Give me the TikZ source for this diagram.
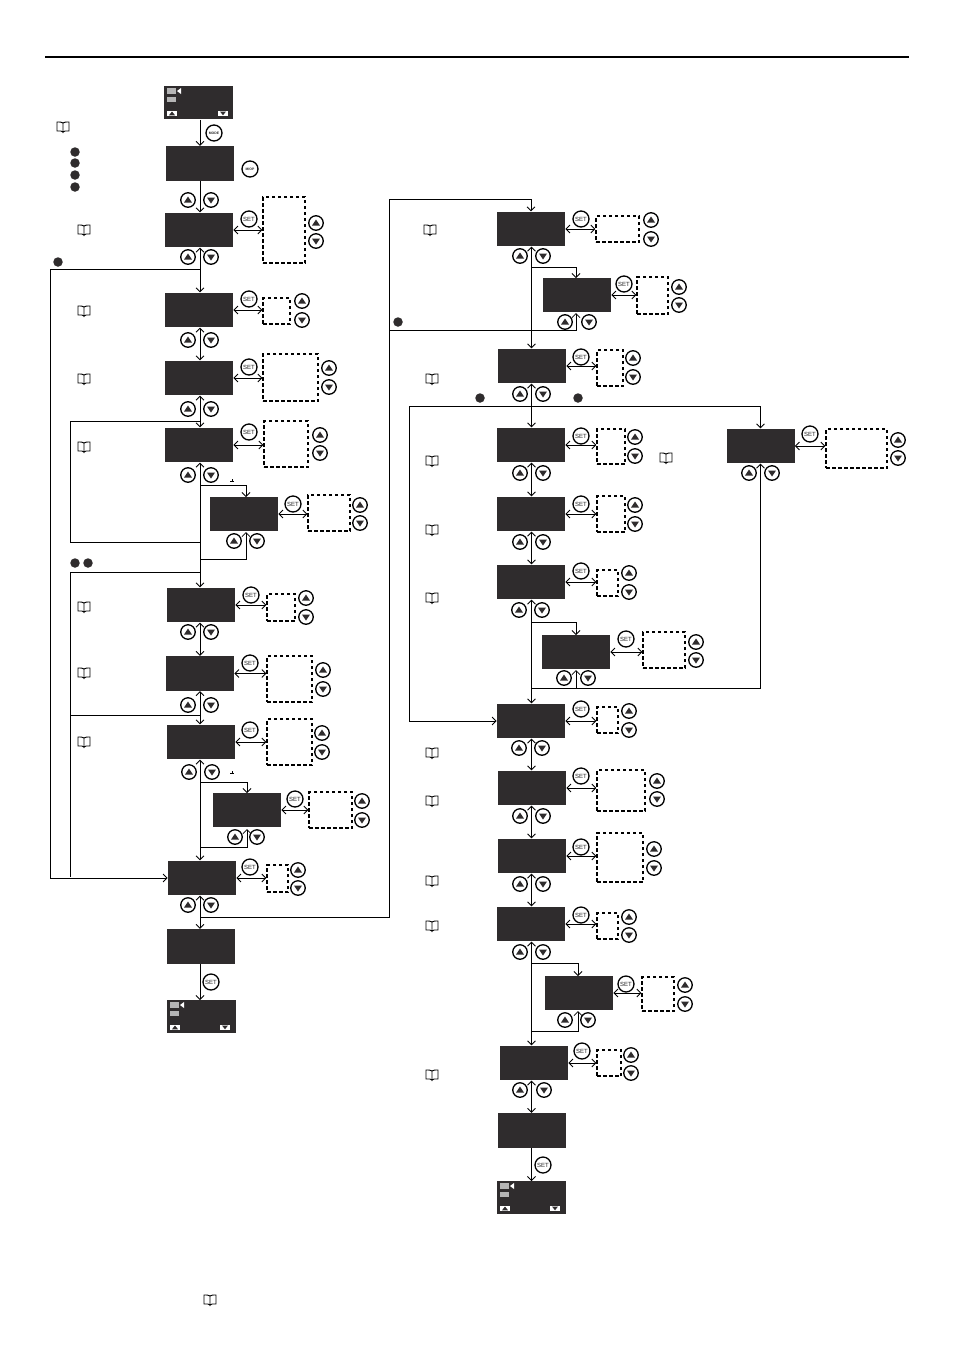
\documentclass[tikz,border=0pt]{standalone}
\usepackage{fontspec}
\setsansfont{Liberation Sans}
\usetikzlibrary{calc}
\usetikzlibrary{arrows.meta}
\definecolor{paneldark}{HTML}{2F2C2D}
\definecolor{barlight}{HTML}{B5B5B5}
\newcommand*\bookicon[2]{%
    \begin{scope}[shift={(#1,#2)},line width=0.9pt]%
        \draw (0,-4) .. controls (-2,-5) .. (-6,-5) -- (-6,4) -- (-2,4)%
            .. controls (-1,4) .. (0,5) .. controls (1,4) .. (2,4)%
            -- (6,4) -- (6,-5) .. controls (2,-5) .. (0,-4) -- (0,6);%
    \end{scope}%
}
% #1 name, #2/#3 top left corner, #4 width, #5 left of the right button
\newcommand*\homescreen[5]{%
    \node[panel,anchor=north west,minimum width=#4,minimum height=33pt] (#1) at (#2,#3) {};%
    \begin{scope}[shift={(#2,#3)}]%
        \fill[barlight] (3,2) rectangle (12,8);%
        \fill[barlight] (3,10.7) rectangle (12,16);%
        \fill[white] (13,5) -- (17,2) -- (17,8) -- cycle;%
        \fill[white] (3,24.5) rectangle (13,30);%
        \fill[white] (#5,24.5) rectangle ++(10,5.5);%
        \fill[paneldark] (5,29.3) -- (11,29.3) -- (8,25.5) -- cycle;%
        \fill[paneldark] (#5,25) ++(2,0.5) -- ++(6,0) -- ++(-3,3.8) -- cycle;%
    \end{scope}%
}

\begin{document}
\begin{tikzpicture}
    [%
        x=1pt,%
        y=-1pt,%
        >={Straight Barb[length=4pt,width=8pt]},%
        line width=0.8pt,%
        panel/.style={%
            fill=paneldark,%
            inner sep=0pt,%
            minimum width=68pt,%
            minimum height=34.5pt%
        },%
        valuebox/.style={%
            draw,%
            line width=1.3pt,%
            dash pattern=on 3.5pt off 2.5pt,%
            inner sep=0pt%
        },%
        roundkey/.style={%
            draw,%
            circle,%
            line width=1.3pt,%
            fill=white,%
            inner sep=0pt,%
            minimum size=14.5pt%
        },%
        keyup/.style={%
            roundkey,%
            path picture={%
                \fill[paneldark] ([shift={(-4,2.5)}]path picture bounding box.center)%
                    -- ([shift={(4,2.5)}]path picture bounding box.center)%
                    -- ([shift={(0,-3.5)}]path picture bounding box.center) -- cycle;%
            }%
        },%
        keydown/.style={%
            roundkey,%
            path picture={%
                \fill[paneldark] ([shift={(-4,-2.5)}]path picture bounding box.center)%
                    -- ([shift={(4,-2.5)}]path picture bounding box.center)%
                    -- ([shift={(0,3.5)}]path picture bounding box.center) -- cycle;%
            }%
        },%
        setkey/.style={%
            roundkey,%
            minimum size=16pt,%
            font=\sffamily\fontsize{6}{6}\selectfont,%
            text=black!85%
        },%
        modekey/.style={%
            setkey,%
            font=\sffamily\bfseries\fontsize{3.4}{3.4}\selectfont%
        },%
        dot/.style={%
            circle,%
            fill=paneldark,%
            inner sep=0pt,%
            minimum size=9.5pt%
        }%
    ]%
%
    \useasboundingbox (0,0) rectangle (954,1350);
    \coordinate (rule-west) at (45,57);
    \coordinate (rule-east) at (909,57);
    \draw[line width=1.5pt] (rule-west) -- (rule-east);
%
    % screens with nothing to set
    \foreach \name/\x/\y in {p1/200/163.5,p12/201/946.5,q14/532/1130.5} {
        \node[panel] (\name) at (\x,\y) {};
    } % \foreach \name/\x/\y
    \homescreen{home1}{164}{86}{69pt}{54}
    \homescreen{home2}{167}{1000}{69pt}{53}
    \homescreen{home3}{497}{1181}{69pt}{53}
%
    % screens, each with its SET key, value box and keys
    % \x/\y screen, \sx/\sy SET key, \bx/\by/\bw/\bh value box
    % \kx/\ku/\kd keys of the value box
    \foreach \name/\x/\y/\sx/\sy/\bx/\by/\bw/\bh/\kx/\ku/\kd in {%
        p2/199/230/249/219/284/230/42/66/316/223/241,%
        p3/199/310/249/299/276.5/311/27/26/302/301/320,%
        p4/199/378/249/367/290.5/377.5/55/47/329/368/387,%
        p5/199/445/249/432/286/444/44/46/320/435/453,%
        p6/244/514/293/504/329/513/42/36/360/505/523,%
        p7/201/605/251/595/281/607.5/28/27/306/598/617,%
        p8/200/673.5/250/663/289.5/679/45/46/323/670/689,%
        p9/201/742/250/730/289.5/742/45/46/322/733/752,%
        p10/247/810/295/799/330.5/810/43/36/362/801/820,%
        p11/202/878/250/867/277.5/878.5/21/27/298/870/888,%
        q1/531/229/581/219/617.5/229/43/26/651/220/239,%
        q2/577/295/624/284/652.5/295.5/31/37/679/287/305,%
        q3/532/366/581/357/610/368/26/36/633/358/377,%
        q4/531/445/581/436/611/446.5/28/35/635/437/456,%
        q5/531/514/581/504/611/514/28/36/635/505/524,%
        q6/531/582/581/571/607.5/583/21/26/629/573/592,%
        q7/576/652/626/639/664/650/42/36/696/642/660,%
        q8/531/721/581/709/607.5/720/21/26/629/711/730,%
        q9/532/788/581/776/621/790.5/48/41/657/781/799,%
        q10/532/856/581/847/620/857.5/46/49/654/849/868,%
        q11/531/924/581/915/607.5/926/21/26/629/917/935,%
        q12/579/993/626/984/658/994/32/34/685/985/1004,%
        q13/534/1063/582/1051/609/1063/24/26/631/1055/1073,%
        r1/760.5/446/810/434/856.5/448.5/61/39/898/440/458%
    }{
        \node[panel] (\name) at (\x,\y) {};
        \node[valuebox,minimum width=\bw pt,minimum height=\bh pt] (\name-box) at (\bx,\by) {};
        \node[setkey] (\name-set) at (\sx,\sy) {SET};
        \node[keyup] (\name-up) at (\kx,\ku) {};
        \node[keydown] (\name-down) at (\kx,\kd) {};
        \draw[<->] (\name.east) -- (\name.east -| \name-box.west);
    } % \foreach \name/\x/\y
%
    % keys under the screens
    \foreach \name/\xa/\xb/\y in {%
        p1/188/211/200,p2/188/211/257,p3/188/211/340,p4/188/211/409,%
        p5/188/211/475,p6/234/257/541,p7/188/211/632,p8/188/211/705,%
        p9/189/212/772,p10/235/257/837,p11/188/211/905,%
        q1/520/543/256,q2/565/589/322,q3/520/543/394,q4/520/543/473,%
        q5/520/543/542,q6/519/542/610,q7/564/588/678,q8/519/542/748,%
        q9/520/543/816,q10/520/543/884,q11/520/543/952,q12/565/588/1020,%
        q13/520/544/1090,r1/749/772/473%
    }{
        \node[keyup] (\name-next) at (\xa,\y) {};
        \node[keydown] (\name-back) at (\xb,\y) {};
    } % \foreach \name/\xa/\xb/\y
    \node[modekey] (mode) at (214,133) {MODE};
    \node[modekey] (stop) at (250,169) {M/OP};
    \node[setkey] (end-left) at (211,982) {SET};
    \node[setkey] (end-right) at (543,1165) {SET};
%
    % the two spines and the free ends of the branches
    \foreach \name/\x/\y in {%
        lspine/200/0,rspine/531.5/0,%
        ja/200/485,jb/200/559,p6in/246/497,p6out/246/532,%
        jc/200/782,jd/200/847,p10in/247/793,p10out/247/829,%
        la/200/421,lb/70/542,lc/200/542,%
        ld/200/572,le/70/877,lf/200/715,lg/70/715,%
        lh/200/269,li/50/878,%
        lj/200/917,lk/389/199,ll/389/330,%
        ma/531.5/267,mb/576/278,mc/576/313,%
        na/409/406,nb/531.5/688,%
        nc/531.5/622,nd/576/635,ne/576/670,%
        nf/531.5/963,ng/578/976,nh/531.5/1031,ni/578/1011%
    }
        \coordinate (\name) at (\x,\y);
%
    % associations along the left spine
    \foreach \from/\to in {home1/p1,p1/p2,p12/home2} {
        \draw[->] (lspine |- \from.south) -- (lspine |- \to.north);
    } % \foreach \from/\to
    \foreach \from/\to in {p2/p3,p3/p4,p4/p5,p5/p7,p7/p8,p8/p9,p9/p11,p11/p12} {
        \draw[<->] (lspine |- \from.south) -- (lspine |- \to.north);
    } % \foreach \from/\to
%
    % associations along the right spine
    \foreach \from/\to in {q1/q3,q3/q4,q4/q5,q5/q6,q6/q8,q8/q9,q9/q10,q10/q11,q11/q13,q13/q14} {
        \draw[<->] (rspine |- \from.south) -- (rspine |- \to.north);
    } % \foreach \from/\to
    \draw[->] (rspine |- q14.south) -- (rspine |- home3.north);
%
    % branches
    \draw[->] (ja) -| (p6in);
    \draw[->] (jb) -| (p6out);
    \draw[->] (jc) -| (p10in);
    \draw[->] (jd) -| (p10out);
    \draw (la) -| (lb) -- (lc);
    \draw (ld) -| (le);
    \draw (lf) -- (lg);
    \draw[->] (lh) -| (li) -- (p11.west);
    \draw[->] (lj) -| (lk) -| (q1.north);
    \draw[->] (ll) -| (mc);
    \draw[->] (ma) -| (mb);
    \draw[<->] (r1.north) |- (na) |- (q8.west);
    \draw[->] (nb) -| (r1.south);
    \draw[->] (nc) -| (nd);
    \draw[->] (nb) -| (ne);
    \draw[->] (nf) -| (ng);
    \draw[->] (nh) -| (ni);
%
    % marks and dots
    \foreach \x/\y in {232/481,232/773} {
        \fill (\x-2,\y) rectangle (\x+1.5,\y+1);
        \fill (\x,\y-2) rectangle (\x+1,\y);
    } % \foreach \x/\y
    \foreach \x/\y [count=\i] in {%
        75/152,75/163,75/175,75/187,58/262,75/563,88/563,398/322,480/398,578/398%
    }{
        \node[dot] (dot\i) at (\x,\y) {};
    } % \foreach \x/\y
    \foreach \x/\y in {%
        63/127,84/230,84/311,84/379,84/447,84/607,84/673,84/742,%
        430/230,432/379,432/461,432/530,432/598,666/458,%
        432/753,432/801,432/881,432/926,432/1075,210/1300%
    }{
        \bookicon{\x}{\y}
    } % \foreach \x/\y
\end{tikzpicture}
\end{document}
